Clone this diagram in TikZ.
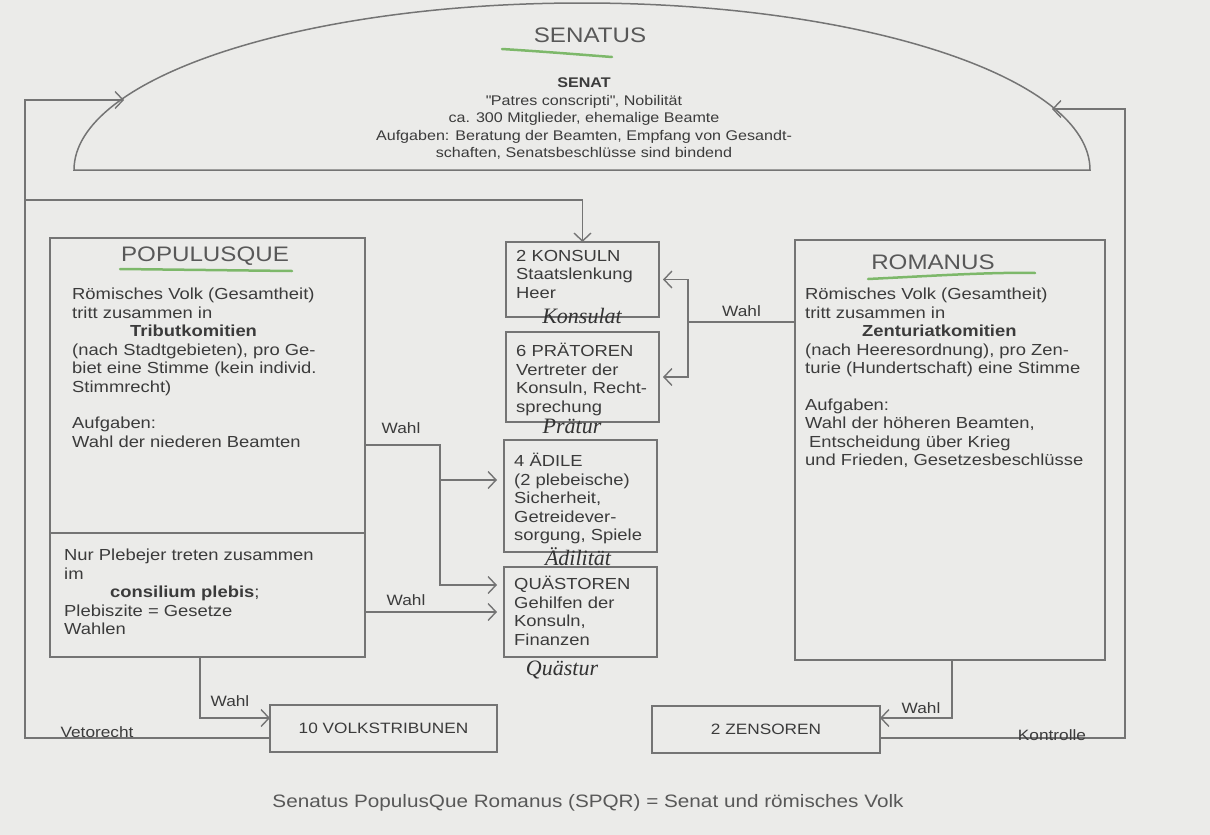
\documentclass[tikz,border=0pt]{standalone}
\usepackage{fontspec}
\setmainfont[FakeStretch=1.15]{Liberation Sans}
\newfontfamily\handfont{Liberation Serif}
\usetikzlibrary{arrows.meta,calc,positioning}
\definecolor{ink}{HTML}{3B3B3B}
\definecolor{rule}{HTML}{747474}
\definecolor{paper}{HTML}{EBEBE9}
\definecolor{marker}{HTML}{7DB86A}

\begin{document}
\begin{tikzpicture}[x=1pt,y=-1pt,>={Straight Barb[length=8pt,width=17pt,line width=1.4pt]},
  line/.style={rule,line width=1.5pt},
  box/.style={draw=rule,line width=1.5pt,inner sep=0pt,outer sep=0pt,anchor=north west},
  txt/.style={text=ink,inner sep=0pt,anchor=north west,align=left,font=\fontsize{16}{18.5}\selectfont},
  title/.style={text=ink!85,inner sep=0pt,font=\fontsize{21}{24}\selectfont},
  lab/.style={text=ink,inner sep=0pt,font=\fontsize{15}{17}\selectfont},
  hand/.style={text=black!80,inner sep=0pt,font=\handfont\itshape\fontsize{22}{22}\selectfont},
  hl/.style={marker,line width=2.5pt,line cap=round}]
  \fill[paper] (0,0) rectangle (1210,835);

  % Senat
  \draw[line] (74,170) arc[start angle=180,end angle=360,x radius=508,y radius=167] -- cycle;
  \node[title] (senatus) at (590,35) {SENATUS};
  \draw[hl] (502,49) .. controls (550,52) and (585,55) .. (612,57);
  \node[text=ink,inner sep=0pt,anchor=north,align=center,font=\fontsize{14}{17.5}\selectfont] (senat) at (584,78)
    {\textbf{SENAT}\\\textquotedbl Patres conscripti\textquotedbl, Nobilität\\ca. 300 Mitglieder, ehemalige Beamte\\
     Aufgaben: Beratung der Beamten, Empfang von Gesandt-\\schaften, Senatsbeschlüsse sind bindend};
  \coordinate (senL) at (124,100);
  \coordinate (senR) at (1052,109);

  % Populusque
  \node[box,minimum width=315,minimum height=295] (populus) at (50,238) {};
  \node[box,minimum width=315,minimum height=124] (plebs) at (50,533) {};
  \node[title] (populus-title) at (205,256) {POPULUSQUE};
  \draw[hl] (120,269) -- (292,271);
  \node[txt] (populus-text) at ($(populus.north west)+(22,50)$)
    {Römisches Volk (Gesamtheit)\\tritt zusammen in\\
     \hspace*{58pt}\textbf{Tributkomitien}\\(nach Stadtgebieten), pro Ge-\\
     biet eine Stimme (kein individ.\\Stimmrecht)\\[18pt]Aufgaben:\\Wahl der niederen Beamten};
  \node[txt] (plebs-text) at ($(plebs.north west)+(14,16)$)
    {Nur Plebejer treten zusammen\\im\\\hspace*{46pt}\textbf{consilium plebis};\\
     Plebiszite = Gesetze\\Wahlen};

  % Romanus
  \node[box,minimum width=310,minimum height=420] (romanus) at (795,240) {};
  \node[title] (romanus-title) at (933,262) {ROMANUS};
  \draw[hl] (868,279) .. controls (930,276) and (990,272) .. (1035,273);
  \node[txt] (romanus-text) at ($(romanus.north west)+(10,48)$)
    {Römisches Volk (Gesamtheit)\\tritt zusammen in\\
     \hspace*{57pt}\textbf{Zenturiatkomitien}\\(nach Heeresordnung), pro Zen-\\
     turie (Hundertschaft) eine Stimme\\[18pt]Aufgaben:\\Wahl der höheren Beamten,\\
     \hspace*{4pt}Entscheidung über Krieg\\und Frieden, Gesetzesbeschlüsse};

  % Beamte
  \node[box,minimum width=153,minimum height=75] (konsuln) at (506,242) {};
  \node[box,minimum width=153,minimum height=90] (praetoren) at (506,332) {};
  \node[box,minimum width=153,minimum height=112] (aedile) at (504,440) {};
  \node[box,minimum width=153,minimum height=90] (quaestoren) at (504,567) {};
  \node[txt] (konsuln-text) at ($(konsuln.north west)+(10,8)$) {2 KONSULN\\Staatslenkung\\Heer};
  \node[txt] (praetoren-text) at ($(praetoren.north west)+(10,11)$)
    {6 PRÄTOREN\\Vertreter der\\Konsuln, Recht-\\sprechung};
  \node[txt] (aedile-text) at ($(aedile.north west)+(10,13)$)
    {4 ÄDILE\\(2 plebeische)\\Sicherheit,\\Getreidever-\\sorgung, Spiele};
  \node[txt] (quaestoren-text) at ($(quaestoren.north west)+(10,9)$)
    {QUÄSTOREN\\Gehilfen der\\Konsuln,\\Finanzen};
  \node[hand] (konsulat) at (582,316) {Konsulat};
  \node[hand] (praetur) at (572,426) {Prätur};
  \node[hand] (aedilitaet) at (578,557) {Ädilität};
  \node[hand] (quaestur) at (562,670) {Quästur};

  % Tribunen und Zensoren
  \node[box,minimum width=227,minimum height=47] (tribunen) at (270,705) {};
  \node[lab] (tribunen-text) at (tribunen.center) {10 VOLKSTRIBUNEN};
  \node[box,minimum width=228,minimum height=47] (zensoren) at (652,706) {};
  \node[lab] (zensoren-text) at (zensoren.center) {2 ZENSOREN};

  % Wahl
  \coordinate (wahlR) at (688,322);
  \draw[line,->,shorten >=4pt] (romanus.west |- wahlR) -- (wahlR) |- (konsuln.east);
  \draw[line,->,shorten >=4pt] (wahlR) |- (praetoren.east);
  \node[lab,above=5pt] (wahlR-lab) at ($(romanus.west |- wahlR)!0.5!(wahlR)$) {Wahl};
  \coordinate (wahlP) at (440,445);
  \draw[line,->,shorten >=7pt] (populus.east |- wahlP) -- (wahlP) |- ([yshift=16pt]aedile.west);
  \draw[line,->,shorten >=7pt] (wahlP) |- ([yshift=27pt]quaestoren.west);
  \node[lab] (wahlP-lab) at (401,428) {Wahl};
  \draw[line,->,shorten >=7pt] (plebs.east |- quaestoren.west) -- (quaestoren.west);
  \node[lab] (wahlQ-lab) at (406,600) {Wahl};
  \coordinate (wahlT) at (200,718);
  \draw[line,->] (plebs.south -| wahlT) -- (wahlT) -- (tribunen.west |- wahlT);
  \node[lab] (wahlT-lab) at (230,701) {Wahl};
  \coordinate (wahlZ) at (952,718);
  \draw[line,->] (romanus.south -| wahlZ) -- (wahlZ) -- (zensoren.east |- wahlZ);
  \node[lab] (wahlZ-lab) at (921,708) {Wahl};

  % Vetorecht und Kontrolle
  \coordinate (vetoL) at (25,738);
  \coordinate (vetoK) at (25,200);
  \draw[line,->] (tribunen.west |- vetoL) -- (vetoL) |- (senL);
  \draw[line,->] (vetoK) -| (konsuln.north);
  \node[lab,anchor=base] (veto-lab) at (97,737) {Vetorecht};
  \coordinate (kontrR) at (1125,738);
  \draw[line,->] (zensoren.east |- kontrR) -- (kontrR) |- (senR);
  \node[lab,anchor=base] (kontr-lab) at (1052,740) {Kontrolle};

  \node[text=ink!85,inner sep=0pt,font=\fontsize{18}{20}\selectfont] (spqr) at (588,803)
    {Senatus PopulusQue Romanus (SPQR) = Senat und römisches Volk};
\end{tikzpicture}
\end{document}
